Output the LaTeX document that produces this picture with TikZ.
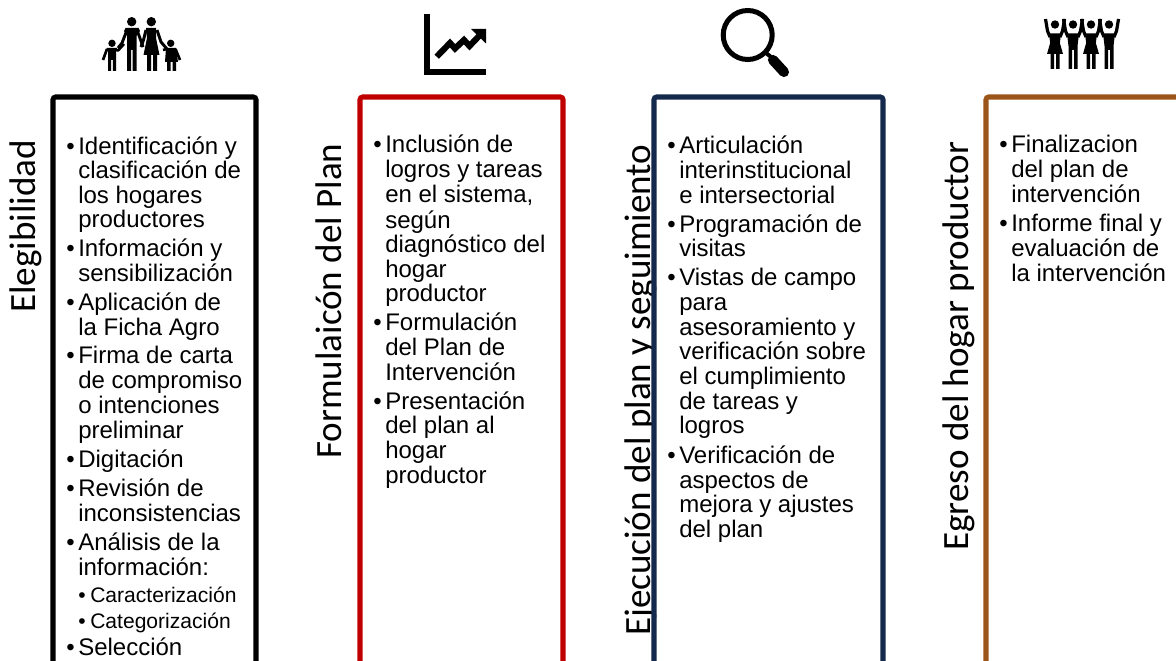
\documentclass[tikz,border=0pt]{standalone}
\usepackage{fontspec}
\setmainfont{Liberation Sans}
\newfontfamily\labfont{Carlito}
\definecolor{cred}{HTML}{C00000}
\definecolor{cnavy}{HTML}{14294B}
\definecolor{cbrown}{HTML}{9C5518}
\tikzset{
 frame/.style={line width=3.8pt,rounded corners=2pt},
 tx/.style={anchor=base west,inner sep=0pt,font=\fontsize{18}{20}\selectfont},
 sub/.style={anchor=base west,inner sep=0pt,font=\fontsize{15.8}{16}\selectfont},
 lab/.style={anchor=base west,rotate=90,inner sep=0pt,font=\labfont\fontsize{27.8}{30}\selectfont},
 ico/.style={fill=black,draw=none},
 iln/.style={draw=black,line cap=butt,line join=miter}
}
\newcommand{\bl}[3]{\node[tx,xshift=-0.75pt] (#1) at (#2,#3) {•};}
\newcommand{\sbl}[3]{\node[sub,xshift=-0.75pt] (#1) at (#2,#3) {•};}
\begin{document}
\begin{tikzpicture}[x=0.75pt,y=-0.75pt]
\useasboundingbox (0,0) rectangle (1176,660);
\clip (0,0) rectangle (1176,660);
% rotated titles
\node[lab] (t1) at (35,313) {Elegibilidad};
\node[lab] (t2) at (341,459) {Formulaicón del Plan};
\node[lab] (t3) at (650,636) {Ejecución del plan y seguimiento};
\node[lab] (t4) at (968,551) {Egreso del hogar productor};
% frames
\draw[frame,black] (53,700) -- (53,97) -- (256,97) -- (256,700);
\draw[frame,cred] (360,700) -- (360,97) -- (563,97) -- (563,700);
\draw[frame,cnavy] (654,700) -- (654,97) -- (883,97) -- (883,700);
\draw[frame,cbrown] (986,700) -- (986,97) -- (1200,97);
% column 1
\bl{b11}{67}{154} \node[tx] (a1) at (78,154) {Identificación y};
\node[tx] (a2) at (78,178) {clasificación de};
\node[tx] (a3) at (78,203) {los hogares};
\node[tx] (a4) at (78,227.5) {productores};
\bl{b12}{67}{256} \node[tx] (a5) at (78,256) {Información y};
\node[tx] (a6) at (78,281) {sensibilización};
\bl{b13}{67}{310} \node[tx] (a7) at (78,310) {Aplicación de};
\node[tx] (a8) at (78,335) {la Ficha Agro};
\bl{b14}{67}{363} \node[tx] (a9) at (78,363) {Firma de carta};
\node[tx] (a10) at (78,388) {de compromiso};
\node[tx] (a11) at (78,413) {o intenciones};
\node[tx] (a12) at (78,438) {preliminar};
\bl{b15}{67}{467} \node[tx] (a13) at (78,467) {Digitación};
\bl{b16}{67}{496} \node[tx] (a14) at (78,496) {Revisión de};
\node[tx] (a15) at (78,521) {inconsistencias};
\bl{b17}{67}{550} \node[tx] (a16) at (78,550) {Análisis de la};
\node[tx] (a17) at (78,575) {información:};
\sbl{b18}{79}{602} \node[sub] (a18) at (90,602) {Caracterización};
\sbl{b19}{79}{628} \node[sub] (a19) at (90,628) {Categorización};
\bl{b110}{67}{655} \node[tx] (a20) at (78,655) {Selección};
% column 2
\bl{b21}{374}{152.5} \node[tx] (c1) at (385,152.5) {Inclusión de};
\node[tx] (c2) at (385,177.5) {logros y tareas};
\node[tx] (c3) at (385,202.5) {en el sistema,};
\node[tx] (c4) at (385,228) {según};
\node[tx] (c5) at (385,252.5) {diagnóstico del};
\node[tx] (c6) at (385,277) {hogar};
\node[tx] (c7) at (385,301.5) {productor};
\bl{b22}{374}{330.5} \node[tx] (c8) at (385,330.5) {Formulación};
\node[tx] (c9) at (385,355) {del Plan de};
\node[tx] (c10) at (385,380) {Intervención};
\bl{b23}{374}{409} \node[tx] (c11) at (385,409) {Presentación};
\node[tx] (c12) at (385,433.5) {del plan al};
\node[tx] (c13) at (385,458) {hogar};
\node[tx] (c14) at (385,483) {productor};
% column 3
\bl{b31}{668}{153} \node[tx] (d1) at (679,153) {Articulación};
\node[tx] (d2) at (679,178) {interinstitucional};
\node[tx] (d3) at (679,203) {e intersectorial};
\bl{b32}{668}{232} \node[tx] (d4) at (679,232) {Programación de};
\node[tx] (d5) at (679,256.5) {visitas};
\bl{b33}{668}{285.5} \node[tx] (d6) at (679,285.5) {Vistas de campo};
\node[tx] (d7) at (679,310) {para};
\node[tx] (d8) at (679,335) {asesoramiento y};
\node[tx] (d9) at (679,359.5) {verificación sobre};
\node[tx] (d10) at (679,384) {el cumplimiento};
\node[tx] (d11) at (679,409) {de tareas y};
\node[tx] (d12) at (679,433.5) {logros};
\bl{b34}{668}{463} \node[tx] (d13) at (679,463) {Verificación de};
\node[tx] (d14) at (679,488) {aspectos de};
\node[tx] (d15) at (679,512.5) {mejora y ajustes};
\node[tx] (d16) at (679,537) {del plan};
% column 4
\bl{b41}{1000}{152.5} \node[tx] (e1) at (1011,152.5) {Finalizacion};
\node[tx] (e2) at (1011,177.5) {del plan de};
\node[tx] (e3) at (1011,202.5) {intervención};
\bl{b42}{1000}{231.5} \node[tx] (e4) at (1011,231.5) {Informe final y};
\node[tx] (e5) at (1011,256.5) {evaluación de};
\node[tx] (e6) at (1011,281) {la intervención};
% --- icon: family
\fill[ico] (131.7,21.7) circle (4.7) (151.3,21.7) circle (4.7) (112,43.3) circle (3.7) (170.7,43.3) circle (3.7);
% man
\fill[ico] (125.5,28) -- (138.5,28) -- (140,31) -- (136.5,36) -- (136.5,71) -- (132.7,71) -- (132.7,50) -- (131,50) -- (131,71) -- (127,71) -- (127,36) -- (124,31) -- cycle;
\draw[iln,line width=2.2pt,line join=round] (127,30) -- (122,43) -- (118,48);
\draw[iln,line width=2.2pt,line join=round] (137,30) -- (141,41) -- (143,47);
% woman
\fill[ico] (146,28) -- (156,28) -- (156,38) -- (159.5,55) -- (157,55) -- (157,71) -- (153,71) -- (153,55) -- (151,55) -- (151,71) -- (147,71) -- (147,55) -- (143.5,55) -- (147,38) -- cycle;
\draw[iln,line width=2.2pt,line join=round] (146,30) -- (143.5,40) -- (141,47);
\draw[iln,line width=2.2pt,line join=round] (157,30) -- (161,42) -- (167,49);
% left child
\fill[ico] (106.5,48) -- (117,48) -- (116,52) -- (116,71) -- (112.8,71) -- (112.8,60) -- (111.2,60) -- (111.2,71) -- (108,71) -- (108,52) -- cycle;
\draw[iln,line width=2pt,line join=round] (115,49.5) -- (118,50.5) -- (124,44);
\draw[iln,line width=2pt,line join=round] (107,49) -- (103,60);
% right child
\fill[ico] (166,48) -- (176,48) -- (178,62) -- (176,62) -- (176,71) -- (172.5,71) -- (172.5,62) -- (170.5,62) -- (170.5,71) -- (167,71) -- (167,62) -- (165,62) -- cycle;
\draw[iln,line width=2pt,line join=round] (175.5,49) -- (180,60);
\draw[iln,line width=2pt,line join=round] (167,49) -- (163,50);
% --- icon: chart
\draw[iln,line width=4.2pt] (427,14) -- (427,72) -- (486,72);
\draw[iln,line width=4.6pt] (436.7,56.7) -- (450,43) -- (455,48.5) -- (464,40) -- (469.5,46) -- (480,35);
\fill[ico] (471,29) -- (486,29) -- (486,43.5) -- cycle;
% --- icon: magnifier
\draw[line width=3.75pt,black] (747.7,35) circle (24.5);
\draw[black,line width=3pt,line cap=butt] (766,53) -- (771,57);
\draw[black,line width=7.6pt,line cap=round] (773,60) -- (784,72);
% --- icon: raised arms
\foreach \cx/\g in {1055/1,1073/0,1091/1,1109/0}{
 \fill[ico] (\cx,24.5) circle (4.2);
 \draw[iln,line width=2.4pt,line join=round] (\cx-5,37) -- (\cx-7.5,31) -- (\cx-9.5,19);
 \draw[iln,line width=2.4pt,line join=round] (\cx+5,37) -- (\cx+7.5,31) -- (\cx+9.5,19);
 \fill[ico] (\cx-6,33.5) -- (\cx+6,33.5) -- (\cx+4.5,46) -- (\cx+4.5,69) -- (\cx+1,69) -- (\cx+1,50) -- (\cx-1,50) -- (\cx-1,69) -- (\cx-4.5,69) -- (\cx-4.5,46) -- cycle;
 \ifnum\g=1
  \fill[ico] (\cx-4,40) -- (\cx+4,40) -- (\cx+8,54) -- (\cx-8,54) -- cycle;
 \fi
}
\end{tikzpicture}
\end{document}
